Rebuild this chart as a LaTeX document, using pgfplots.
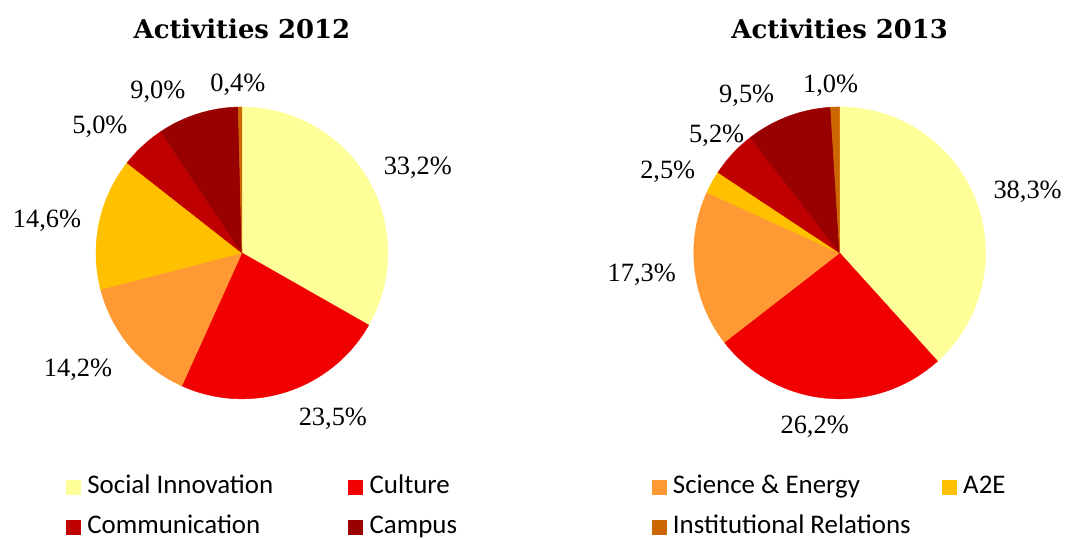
\documentclass[border=0pt]{standalone}
\usepackage{fontspec}
\setmainfont{Liberation Serif}
\newfontfamily\titlefont{DejaVu Serif}
\newfontfamily\legfont{Carlito}
\usepackage{pgfplots}
\pgfplotsset{compat=1.18}
\definecolor{cSI}{HTML}{FFFF99}
\definecolor{cCU}{HTML}{F00000}
\definecolor{cSE}{HTML}{FF9933}
\definecolor{cAE}{HTML}{FFC000}
\definecolor{cCO}{HTML}{C00000}
\definecolor{cCA}{HTML}{990000}
\definecolor{cIR}{HTML}{CC6600}
% 2012 shares (%): SI 33.2, CU 23.5, SE 14.2, A2E 14.6, CO 5.0, CA 9.0, IR 0.4 (total 99.9)
% 2013 shares (%): SI 38.3, CU 26.2, SE 17.3, A2E 2.5, CO 5.2, CA 9.5, IR 1.0 (total 100)
\newcommand\lab{\fontsize{26.5}{30}\selectfont}
\newcommand\ttl{\titlefont\bfseries\fontsize{26}{30}\selectfont}
\newcommand\legf{\legfont\fontsize{27}{30}\selectfont}
\begin{document}
\begin{tikzpicture}
\begin{axis}[
  hide axis, scale only axis, width=1065bp, height=537bp,
  xmin=0, xmax=1065, ymin=0, ymax=537, y dir=reverse, clip=false,
  legend columns=4,
  legend style={at={(axis cs:66,475)}, anchor=north west, draw=none, fill=none,
    inner sep=0pt, outer sep=0pt, font=\legf, row sep=15bp,
    nodes={inner sep=0pt, text height=19bp, text depth=6bp},
    /tikz/every odd column/.append style={column sep=7bp}},
  legend cell align=left,
  legend image code/.code={\fill[#1] (0bp,-7bp) rectangle (14bp,7bp);},
]
% ---- 2012 pie (centre 242,253, r 146), angles clockwise from top
\addplot[forget plot, fill=cSI, draw=cSI, domain=-29.64:90, samples=60, variable=\t] ({242+146*cos(t)},{253-146*sin(t)}) -- (axis cs:242,253) -- cycle;
\addplot[forget plot, fill=cCU, draw=cCU, domain=-114.32:-29.64, samples=50, variable=\t] ({242+146*cos(t)},{253-146*sin(t)}) -- (axis cs:242,253) -- cycle;
\addplot[forget plot, fill=cSE, draw=cSE, domain=-165.50:-114.32, samples=40, variable=\t] ({242+146*cos(t)},{253-146*sin(t)}) -- (axis cs:242,253) -- cycle;
\addplot[forget plot, fill=cAE, draw=cAE, domain=-218.11:-165.50, samples=40, variable=\t] ({242+146*cos(t)},{253-146*sin(t)}) -- (axis cs:242,253) -- cycle;
\addplot[forget plot, fill=cCO, draw=cCO, domain=-236.13:-218.11, samples=20, variable=\t] ({242+146*cos(t)},{253-146*sin(t)}) -- (axis cs:242,253) -- cycle;
\addplot[forget plot, fill=cCA, draw=cCA, domain=-268.56:-236.13, samples=30, variable=\t] ({242+146*cos(t)},{253-146*sin(t)}) -- (axis cs:242,253) -- cycle;
\addplot[forget plot, fill=cIR, draw=cIR, domain=-270:-268.56, samples=5, variable=\t] ({242+146*cos(t)},{253-146*sin(t)}) -- (axis cs:242,253) -- cycle;
% ---- 2013 pie (centre 840,253, r 146)
\addplot[forget plot, fill=cSI, draw=cSI, domain=-47.88:90, samples=60, variable=\t] ({840+146*cos(t)},{253-146*sin(t)}) -- (axis cs:840,253) -- cycle;
\addplot[forget plot, fill=cCU, draw=cCU, domain=-142.2:-47.88, samples=50, variable=\t] ({840+146*cos(t)},{253-146*sin(t)}) -- (axis cs:840,253) -- cycle;
\addplot[forget plot, fill=cSE, draw=cSE, domain=-204.48:-142.2, samples=40, variable=\t] ({840+146*cos(t)},{253-146*sin(t)}) -- (axis cs:840,253) -- cycle;
\addplot[forget plot, fill=cAE, draw=cAE, domain=-213.48:-204.48, samples=10, variable=\t] ({840+146*cos(t)},{253-146*sin(t)}) -- (axis cs:840,253) -- cycle;
\addplot[forget plot, fill=cCO, draw=cCO, domain=-232.2:-213.48, samples=20, variable=\t] ({840+146*cos(t)},{253-146*sin(t)}) -- (axis cs:840,253) -- cycle;
\addplot[forget plot, fill=cCA, draw=cCA, domain=-266.4:-232.2, samples=30, variable=\t] ({840+146*cos(t)},{253-146*sin(t)}) -- (axis cs:840,253) -- cycle;
\addplot[forget plot, fill=cIR, draw=cIR, domain=-270:-266.4, samples=5, variable=\t] ({840+146*cos(t)},{253-146*sin(t)}) -- (axis cs:840,253) -- cycle;
% ---- titles
\node[anchor=base, font=\ttl] at (axis cs:242,39) {Activities 2012};
\node[anchor=base, font=\ttl] at (axis cs:840,39) {Activities 2013};
% ---- labels 2012
\node[anchor=base, font=\lab] at (axis cs:418,175) {33,2\%};
\node[anchor=base, font=\lab] at (axis cs:333,426) {23,5\%};
\node[anchor=base, font=\lab] at (axis cs:78,377) {14,2\%};
\node[anchor=base, font=\lab] at (axis cs:47,228) {14,6\%};
\node[anchor=base, font=\lab] at (axis cs:100,134) {5,0\%};
\node[anchor=base, font=\lab] at (axis cs:158,99) {9,0\%};
\node[anchor=base, font=\lab] at (axis cs:238,92) {0,4\%};
% ---- labels 2013
\node[anchor=base, font=\lab] at (axis cs:1028,199) {38,3\%};
\node[anchor=base, font=\lab] at (axis cs:815,434) {26,2\%};
\node[anchor=base, font=\lab] at (axis cs:642,282) {17,3\%};
\node[anchor=base, font=\lab] at (axis cs:668,179) {2,5\%};
\node[anchor=base, font=\lab] at (axis cs:717,143) {5,2\%};
\node[anchor=base, font=\lab] at (axis cs:747,103) {9,5\%};
\node[anchor=base, font=\lab] at (axis cs:831,93) {1,0\%};
% ---- legend
\addlegendimage{cSI}\addlegendentry{\makebox[261bp][l]{Social Innovation}}
\addlegendimage{cCU}\addlegendentry{\makebox[282bp][l]{Culture}}
\addlegendimage{cSE}\addlegendentry{\makebox[269bp][l]{Science \& Energy}}
\addlegendimage{cAE}\addlegendentry{A2E}
\addlegendimage{cCO}\addlegendentry{\makebox[261bp][l]{Communication}}
\addlegendimage{cCA}\addlegendentry{\makebox[282bp][l]{Campus}}
\addlegendimage{cIR}\addlegendentry{\makebox[269bp][l]{Institutional Relations}}
\end{axis}
\path (0,0) rectangle (1065bp,537bp);
\end{tikzpicture}
\end{document}
